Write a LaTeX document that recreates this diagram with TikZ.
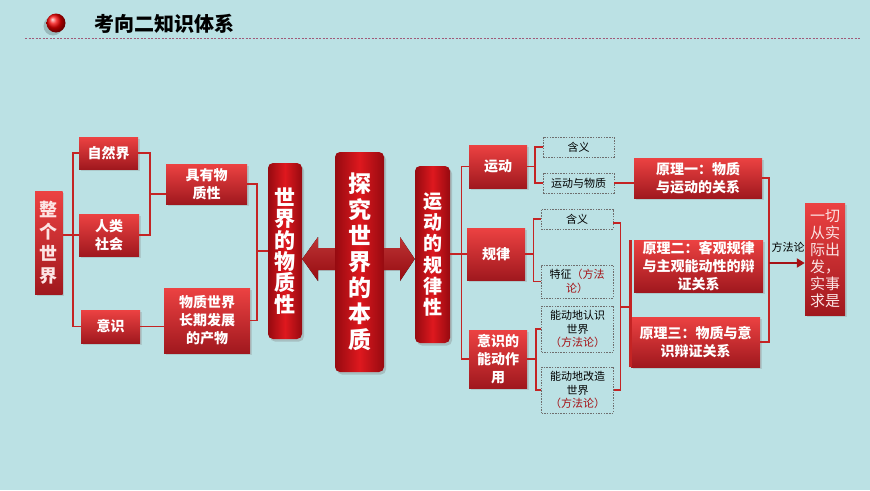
\documentclass[tikz,border=0pt]{standalone}
\usepackage{fontspec}
\newfontfamily\cjk{Noto Sans CJK SC}
\usetikzlibrary{shadows,arrows.meta,calc}
\definecolor{bg}{RGB}{187,225,228}
\definecolor{rtop}{RGB}{236,66,66}
\definecolor{rbot}{RGB}{160,24,30}
\definecolor{bmid}{RGB}{222,24,30}
\definecolor{bdark}{RGB}{150,10,16}
\definecolor{lred}{RGB}{196,36,36}
\definecolor{dred}{RGB}{165,18,22}
\definecolor{dgray}{RGB}{110,110,110}
\definecolor{dashc}{RGB}{160,90,120}
\definecolor{pinkt}{RGB}{252,228,228}
\newcommand{\rt}[1]{\textcolor{dred}{#1}}
\begin{document}
\begin{tikzpicture}[x=1pt,y=-1pt,
  rbox/.style={inner sep=0pt, align=center, text=white,
    font=\cjk\bfseries\fontsize{14}{18}\selectfont,
    top color=rtop, bottom color=rbot,
    drop shadow={opacity=0.25,shadow xshift=1.5pt,shadow yshift=-1.5pt}},
  bigbox/.style={inner sep=0pt, align=center, text=white, rounded corners=5pt,
    left color=bdark, right color=bdark, middle color=bmid,
    drop shadow={opacity=0.35,shadow xshift=2pt,shadow yshift=-2.5pt}},
  dbox/.style={inner sep=0pt, align=center, draw=dgray, line width=0.6pt,
    dash pattern=on 1.5pt off 1.2pt, text=black,
    font=\cjk\fontsize{11}{13.5}\selectfont},
  conn/.style={draw=lred, line width=1.1pt},
  barrow/.style={top color=rtop!80!black, bottom color=bdark, draw=none}
]
\fill[bg] (0,0) rectangle (870,490);
\useasboundingbox (0,0) rectangle (870,490);

% title
\fill[black,opacity=0.18] (53,26) circle (9.5);
\node[circle, inner sep=0pt, minimum size=19pt, ball color=red!95!black] (ball) at (56,23) {};
\node[anchor=west, inner sep=0pt, font=\cjk\bfseries\fontsize{20}{20}\selectfont] (title) at (94,24) {考向二知识体系};
\draw[dashc, line width=0.8pt, dash pattern=on 2pt off 1.5pt] (25,38) -- (860,38);

% left part
\node[rbox, minimum width=27.5pt, minimum height=103pt, text=pinkt,
  font=\cjk\bfseries\fontsize{18}{22}\selectfont] (zgsj) at (48.75,242.5) {整\\个\\世\\界};
\node[rbox, minimum width=59pt, minimum height=32pt] (zrj) at (108.5,153) {自然界};
\node[rbox, minimum width=60pt, minimum height=42pt] (rlsh) at (109,235) {人类\\社会};
\node[rbox, minimum width=59pt, minimum height=33pt] (ys) at (110.5,326.5) {意识};
\node[rbox, minimum width=81pt, minimum height=40pt] (jywzx) at (206.5,184) {具有物\\质性};
\node[rbox, minimum width=86pt, minimum height=65pt] (wzsj) at (207,320.5) {物质世界\\长期发展\\的产物};
\node[bigbox, minimum width=34pt, minimum height=176pt,
  font=\cjk\bfseries\fontsize{21}{21.3}\selectfont] (sjwzx) at (285,251) {世\\界\\的\\物\\质\\性};
\node[bigbox, minimum width=49pt, minimum height=220pt,
  font=\cjk\bfseries\fontsize{23}{26}\selectfont] (tjsj) at (359.5,262) {探\\究\\世\\界\\的\\本\\质};
\node[bigbox, minimum width=35pt, minimum height=177pt,
  font=\cjk\bfseries\fontsize{19}{21.3}\selectfont] (ydgl) at (432.5,254.5) {运\\动\\的\\规\\律\\性};

% block arrows
\fill[barrow] (sjwzx.east |- 0,259) -- (318,237) -- (318,248) -- (tjsj.west |- 0,248)
  -- (tjsj.west |- 0,270) -- (318,270) -- (318,281) -- cycle;
\fill[barrow] (tjsj.east |- 0,248) -- (400,248) -- (400,237) -- (ydgl.west |- 0,259)
  -- (400,281) -- (400,270) -- (tjsj.east |- 0,270) -- cycle;

% middle-right column
\node[rbox, minimum width=58pt, minimum height=43pt] (yd) at (498,166.5) {运动};
\node[rbox, minimum width=58pt, minimum height=52pt] (gl) at (496,254) {规律};
\node[rbox, minimum width=58pt, minimum height=58pt] (ysnd) at (498,359) {意识的\\能动作\\用};

\node[dbox, minimum width=71pt, minimum height=20pt] (hy1) at (578.5,147) {含义};
\node[dbox, minimum width=71pt, minimum height=20pt] (ydwz) at (578.5,183) {运动与物质};
\node[dbox, minimum width=72pt, minimum height=20pt] (hy2) at (577,219) {含义};
\node[dbox, minimum width=72pt, minimum height=33pt] (tz) at (577,281.5) {特征\rt{（方法}\\\rt{论）}};
\node[dbox, minimum width=72pt, minimum height=46pt] (rs) at (577.5,329) {能动地认识\\世界\\\rt{（方法论）}};
\node[dbox, minimum width=72pt, minimum height=46pt] (gz) at (577.5,390) {能动地改造\\世界\\\rt{（方法论）}};

\node[rbox, minimum width=128pt, minimum height=40pt] (yl1) at (698,178) {原理一：物质\\与运动的关系};
\node[rbox, minimum width=129pt, minimum height=52pt] (yl2) at (698.5,266) {原理二：客观规律\\与主观能动性的辩\\证关系};
\node[rbox, minimum width=129pt, minimum height=50pt] (yl3) at (695.5,342) {原理三：物质与意\\识辩证关系};
\node[rbox, minimum width=40pt, minimum height=112pt, text=pinkt,
  font=\cjk\fontsize{15}{17}\selectfont] (yq) at (825,259) {一切\\从实\\际出\\发，\\实事\\求是};

% connectors left
\coordinate (b1) at (73,0);
\coordinate (b2) at (150,0);
\coordinate (b3) at (257,0);
\draw[conn] (zrj.west) -- (zrj.west -| b1) -- (ys.west -| b1) -- (ys.west);
\draw[conn] (zgsj.east |- rlsh.west) -- (rlsh.west);
\draw[conn] (zrj.east) -- (zrj.east -| b2) -- (rlsh.east -| b2) -- (rlsh.east);
\draw[conn] (b2 |- 0,194) -- ($(jywzx.west)+(0,10)$);
\draw[conn] (ys.east) -- (ys.east -| wzsj.west);
\draw[conn] (jywzx.east) -- (jywzx.east -| b3) -- (wzsj.east -| b3) -- (wzsj.east);
\draw[conn] (b3 |- sjwzx.west) -- (sjwzx.west);

% connectors right
\coordinate (b4) at (461.5,0);
\coordinate (b5) at (535,0);
\coordinate (b6) at (533.5,0);
\coordinate (b7) at (536,0);
\coordinate (b8) at (620.7,0);
\coordinate (b9) at (769,0);
\draw[conn] (yd.west) -- (yd.west -| b4) -- (ysnd.west -| b4) -- (ysnd.west);
\draw[conn] (ydgl.east |- gl.west) -- (gl.west);
\draw[conn] (yd.east) -- (yd.east -| b5);
\draw[conn] (hy1.west) -- (hy1.west -| b5) -- (ydwz.west -| b5) -- (ydwz.west);
\draw[conn] (gl.east) -- (gl.east -| b6);
\draw[conn] (hy2.west) -- (hy2.west -| b6) -- (tz.west -| b6) -- (tz.west);
\draw[conn] (ysnd.east) -- (ysnd.east -| b7);
\draw[conn] (rs.west) -- (rs.west -| b7) -- (gz.west -| b7) -- (gz.west);
\draw[conn] (ydwz.east) -- (ydwz.east -| yl1.west);
\draw[conn] ($(hy2.east)+(0,4)$) -- ($(hy2.east -| b8)+(0,4)$) -- (gz.east -| b8) -- (gz.east);
\draw[conn] (b8 |- 0,307) -- (yl3.west |- 0,307);
\draw[draw=lred, line width=3pt] (yl3.south west) -- (yl3.south west |- yl2.north);
\draw[conn] (yl1.east) -- (yl1.east -| b9) -- (yl3.east -| b9) -- (yl3.east);
\draw[draw=dred, line width=2.2pt, -{Triangle[length=8pt,width=9pt]}]
  ($(b9 |- yq.west)+(0,4)$) -- ($(yq.west)+(0,4)$);
\node[inner sep=0pt, font=\cjk\fontsize{11}{11}\selectfont] (ffl) at (788,247) {方法论};
\end{tikzpicture}
\end{document}
